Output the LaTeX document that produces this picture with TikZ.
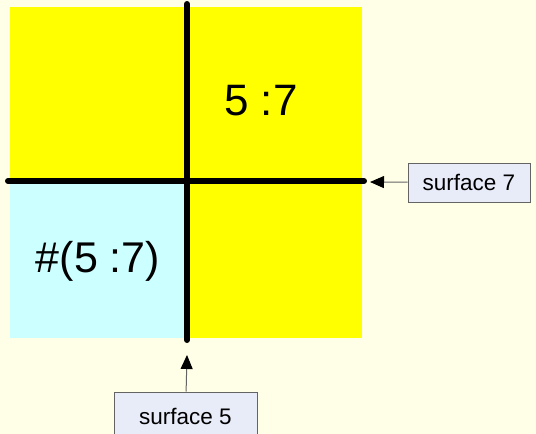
\documentclass[tikz,border=0pt]{standalone}
\usepackage{fontspec}
\setmainfont{Liberation Sans}
\usetikzlibrary{arrows.meta}

\definecolor{paper}{RGB}{255,255,232}
\definecolor{lightcyan}{RGB}{204,255,255}
\definecolor{pureyellow}{RGB}{255,255,0}
\definecolor{boxfill}{RGB}{232,236,248}
\definecolor{boxline}{RGB}{100,100,100}

\tikzset{
  cut/.style={line width=6pt,line cap=round},
  tag/.style={draw=boxline,fill=boxfill,line width=1pt,inner sep=0pt,font=\fontsize{22.5}{26}\selectfont},
  pointer/.style={draw=boxline,line width=1pt,-{Triangle[length=14pt,width=12pt,color=black]}}
}

\begin{document}
\begin{tikzpicture}[x=1pt,y=-1pt]
	\useasboundingbox[fill=paper] (0,0) rectangle (536,434);
	% the two regions
	\fill[pureyellow] (10,7) rectangle (362,338);
	\fill[lightcyan] (10,181) rectangle (187,338);
	% surfaces 5 and 7
	\draw[cut] (187,4) -- (187,340);
	\draw[cut] (8,181) -- (364,181);
	\node[font=\fontsize{44}{48}\selectfont] (cell) at (261,101) {5 :7};
	\node[font=\fontsize{43}{48}\selectfont] (compl) at (98,261) {\#(5 :7)};
	% labels
	\node[tag,minimum width=122pt,minimum height=39pt] (s7) at (469,182.5) {surface 7};
	\node[tag,minimum width=143pt,minimum height=48pt] (s5) at (185.5,416) {surface 5};
	\coordinate (e7) at (370,182);
	\coordinate (e5) at (187,355);
	\draw[pointer] (s7) -- (e7);
	\draw[pointer] (s5) -- (e5);
\end{tikzpicture}
\end{document}
